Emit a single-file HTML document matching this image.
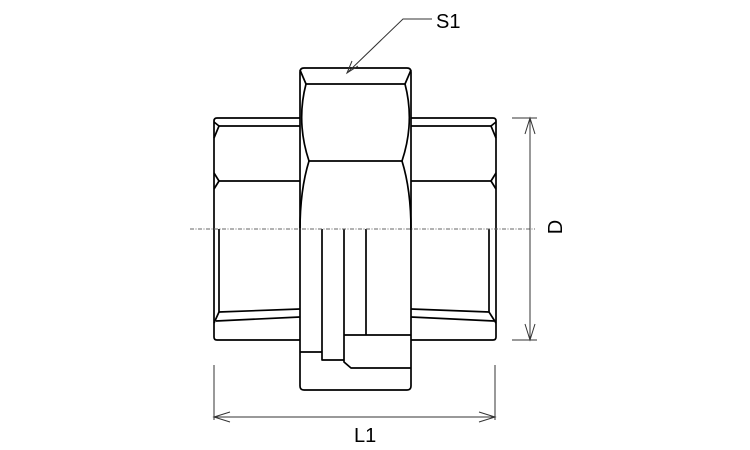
<!DOCTYPE html>
<html><head><meta charset="utf-8"><style>
html,body{margin:0;padding:0;background:#fff;width:750px;height:450px;overflow:hidden}
svg{display:block}
text{font-family:"Liberation Sans",sans-serif;fill:#000}
</style></head><body>
<svg width="750" height="450" viewBox="0 0 750 450" xmlns="http://www.w3.org/2000/svg">
<g fill="none" stroke="#000" stroke-width="1.7" stroke-linejoin="round">
<path d="M300,118 H217 Q214,118 214,121 V337 Q214,340 217,340 H300"/>
<line x1="219" y1="126" x2="300" y2="126"/>
<line x1="219" y1="181" x2="300" y2="181"/>
<path d="M214,122 L219,126 L214,138"/>
<path d="M214,173 L219,181 L214,189"/>
<line x1="219" y1="229" x2="219" y2="312"/>
<line x1="219" y1="312" x2="300" y2="309"/>
<line x1="216" y1="321" x2="300" y2="317"/>
<line x1="214" y1="323" x2="219" y2="312"/>
<path d="M411,118 H493 Q496,118 496,121 V337 Q496,340 493,340 H411"/>
<line x1="411" y1="126" x2="491" y2="126"/>
<line x1="411" y1="181" x2="491" y2="181"/>
<path d="M496,122 L491,126 L496,138"/>
<path d="M496,173 L491,181 L496,189"/>
<line x1="489" y1="229" x2="489" y2="312"/>
<line x1="411" y1="309" x2="489" y2="312"/>
<line x1="411" y1="317" x2="494" y2="321"/>
<line x1="496" y1="323" x2="489" y2="312"/>
<path d="M300,72 Q300,68 304,68 H407 Q411,68 411,72 V386 Q411,390 407,390 H304 Q300,390 300,386 Z"/>
<line x1="306" y1="84" x2="405" y2="84"/>
<line x1="300" y1="70" x2="306" y2="84"/>
<line x1="411" y1="70" x2="405" y2="84"/>
<path d="M306,84 Q296,122 309,161"/>
<path d="M405,84 Q415,122 402,161"/>
<line x1="309" y1="161" x2="402" y2="161"/>
<path d="M309,161 Q300,190 300,230"/>
<path d="M402,161 Q411,190 411,230"/>
<path d="M322,229 V360 H344"/>
<line x1="300" y1="352" x2="322" y2="352"/>
<path d="M344,229 V362 L351,368 H411"/>
<line x1="366" y1="229" x2="366" y2="335"/>
<line x1="344" y1="335" x2="411" y2="335"/>
</g>
<line x1="190" y1="229" x2="535" y2="229" stroke="#666" stroke-width="1" stroke-dasharray="4,1.5,1,1.5"/>
<g stroke="#333" stroke-width="1" fill="none">
<line x1="512" y1="118" x2="537" y2="118"/>
<line x1="512" y1="340" x2="537" y2="340"/>
<line x1="530" y1="118" x2="530" y2="340"/>
<path d="M525,134 L530,118 L535,134"/>
<path d="M525,324 L530,340 L535,324"/>
<line x1="214" y1="365" x2="214" y2="420"/>
<line x1="495" y1="365" x2="495" y2="420"/>
<line x1="214" y1="417" x2="495" y2="417"/>
<path d="M230,412 L214,417 L230,422"/>
<path d="M479,412 L495,417 L479,422"/>
<path d="M432,19 H403 L347,73"/>
<path d="M352,61 L347,73 L358,66"/>
</g>
<text x="436" y="28" font-size="20">S1</text>
<text x="354" y="442" font-size="20">L1</text>
<text x="0" y="0" font-size="20" transform="translate(562,227) rotate(-90)" text-anchor="middle">D</text>
</svg>
</body></html>
